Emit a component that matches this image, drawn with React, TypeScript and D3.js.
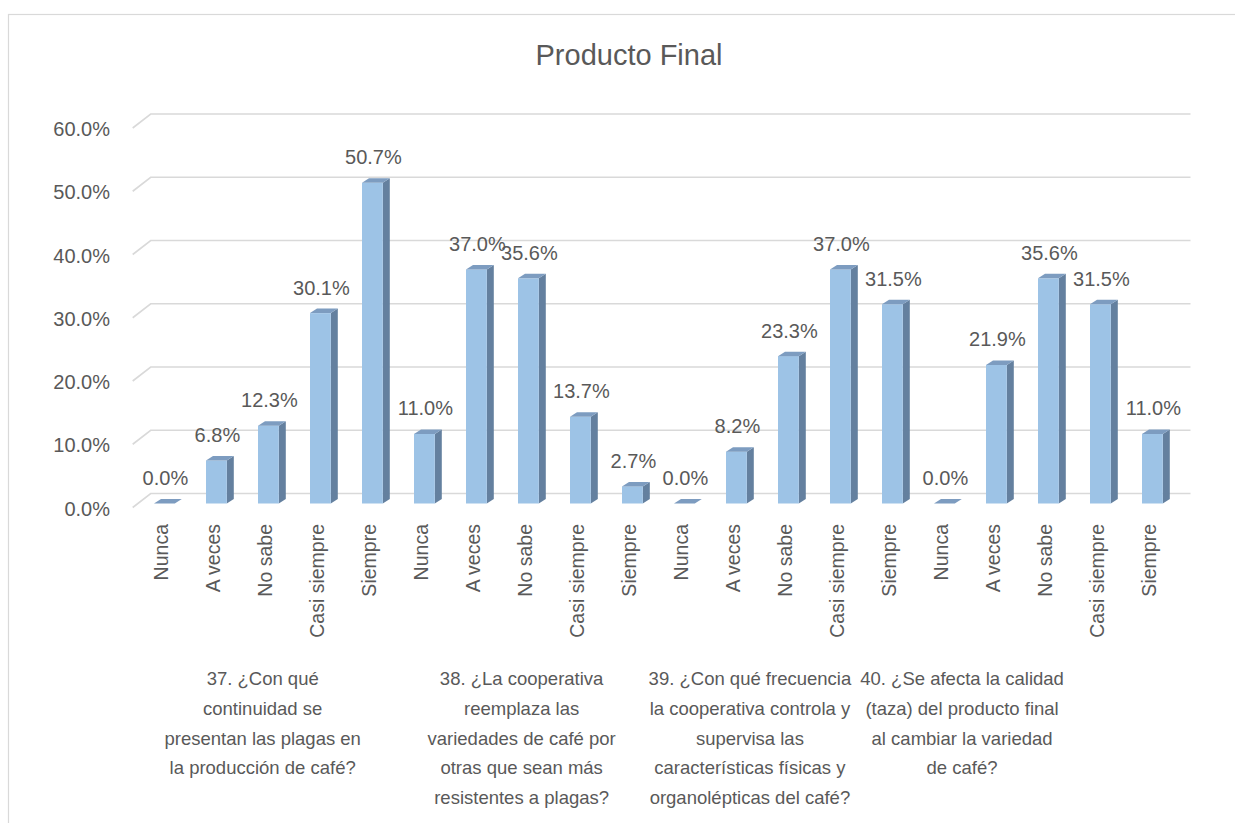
import React from "react";
import * as d3 from "d3";

const categories = ["Nunca", "A veces", "No sabe", "Casi siempre", "Siempre"];
const groupLabels = [
  ["37. ¿Con qué", "continuidad se", "presentan las plagas en", "la producción de café?"],
  ["38. ¿La cooperativa", "reemplaza las", "variedades de café por", "otras que sean más", "resistentes a plagas?"],
  ["39. ¿Con qué frecuencia", "la cooperativa controla y", "supervisa las", "características físicas y", "organolépticas del café?"],
  ["40. ¿Se afecta la calidad", "(taza) del producto final", "al cambiar la variedad", "de café?"],
];
const q37 = [0.0, 6.8, 12.3, 30.1, 50.7];
const q38 = [11.0, 37.0, 35.6, 13.7, 2.7];
const q39 = [0.0, 8.2, 23.3, 37.0, 31.5];
const q40 = [0.0, 21.9, 35.6, 31.5, 11.0];
const yTicks = [0, 10, 20, 30, 40, 50, 60];
const title = "Producto Final";

// group label anchors, in category-index units (Excel places them unevenly)
const groupAnchors = [2.39, 7.37, 11.76, 15.84];

const W = 1235;
const H = 823;
const FONT = "'Liberation Sans', Arial, sans-serif";
const TXT = "#595959";

export default function App() {
  const series = [q37, q38, q39, q40];
  const items = series.flatMap((vals, g) =>
    vals.map((v, k) => ({ g, k, v, cat: categories[k], idx: g * 5 + k }))
  );
  const n = items.length;

  const x = d3.scaleBand<number>().domain(d3.range(n)).range([138.4, 1178.4]).padding(0);
  const bw = x.bandwidth();
  const barW = bw * 0.4;
  const idxToX = d3.scaleLinear().domain([0, n]).range([138.4, 1178.4]);

  const yGrid = d3.scaleLinear().domain([0, 60]).range([493.5, 114]);
  const yBar = d3.scaleLinear().domain([0, 60]).range([503.5, 124]);

  const depthX = 7;
  const depthY = -4.5;
  const wallDX = -18;
  const wallDY = 14;
  const gridRight = 1190.5;
  const gridLeft = 150.7;

  return (
    <svg width={W} height={H} style={{ display: "block", position: "absolute", left: 0, top: 0 }}>
      <rect x={0} y={0} width={W} height={H} fill="#fff" />
      <rect x={8.5} y={14.5} width={1245} height={830} fill="#fff" stroke="#d9d9d9" strokeWidth={1.2} />
      <text x={629} y={65} fontFamily={FONT} fontSize={29} fill={TXT} textAnchor="middle">
        {title}
      </text>
      {yTicks.map((t) => (
        <g key={t}>
          <polyline
            points={`${gridLeft + wallDX},${yGrid(t) + wallDY} ${gridLeft},${yGrid(t)} ${gridRight},${yGrid(t)}`}
            fill="none"
            stroke="#d9d9d9"
            strokeWidth={1.6}
          />
          <text
            x={110}
            y={yGrid(t) + 15}
            fontFamily={FONT}
            fontSize={20}
            fill={TXT}
            textAnchor="end"
            dominantBaseline="central"
          >
            {t.toFixed(1) + "%"}
          </text>
        </g>
      ))}
      {items.map((d) => {
        const x0 = (x(d.idx) as number) + (bw - barW) / 2;
        const x1 = x0 + barW;
        const yb = yBar(0);
        const yt = yBar(d.v);
        const cx = (x0 + x1) / 2;
        return (
          <g key={d.idx}>
            {d.v > 0 && (
              <>
                <polygon
                  points={`${x1},${yb} ${x1 + depthX},${yb + depthY} ${x1 + depthX},${yt + depthY} ${x1},${yt}`}
                  fill="#64809f"
                />
                <rect x={x0} y={yt} width={barW} height={yb - yt} fill="#9dc3e6" />
              </>
            )}
            <polygon
              points={`${x0},${yt} ${x1},${yt} ${x1 + depthX},${yt + depthY} ${x0 + depthX},${yt + depthY}`}
              fill="#7d9cc0"
            />
            <text
              x={cx + 1}
              y={yt + depthY - 14}
              fontFamily={FONT}
              fontSize={20}
              fill={TXT}
              textAnchor="middle"
            >
              {d.v.toFixed(1) + "%"}
            </text>
            <text
              transform={`translate(${cx - 3},${524}) rotate(-90)`}
              fontFamily={FONT}
              fontSize={19.5}
              fill={TXT}
              textAnchor="end"
              dominantBaseline="central"
            >
              {d.cat}
            </text>
          </g>
        );
      })}
      {groupLabels.map((lines, g) => (
        <text
          key={g}
          x={idxToX(groupAnchors[g])}
          y={678}
          fontFamily={FONT}
          fontSize={18.5}
          fill={TXT}
          textAnchor="middle"
          dominantBaseline="central"
        >
          {lines.map((l, i) => (
            <tspan key={i} x={idxToX(groupAnchors[g])} y={678 + i * 29.8}>
              {l}
            </tspan>
          ))}
        </text>
      ))}
    </svg>
  );
}
